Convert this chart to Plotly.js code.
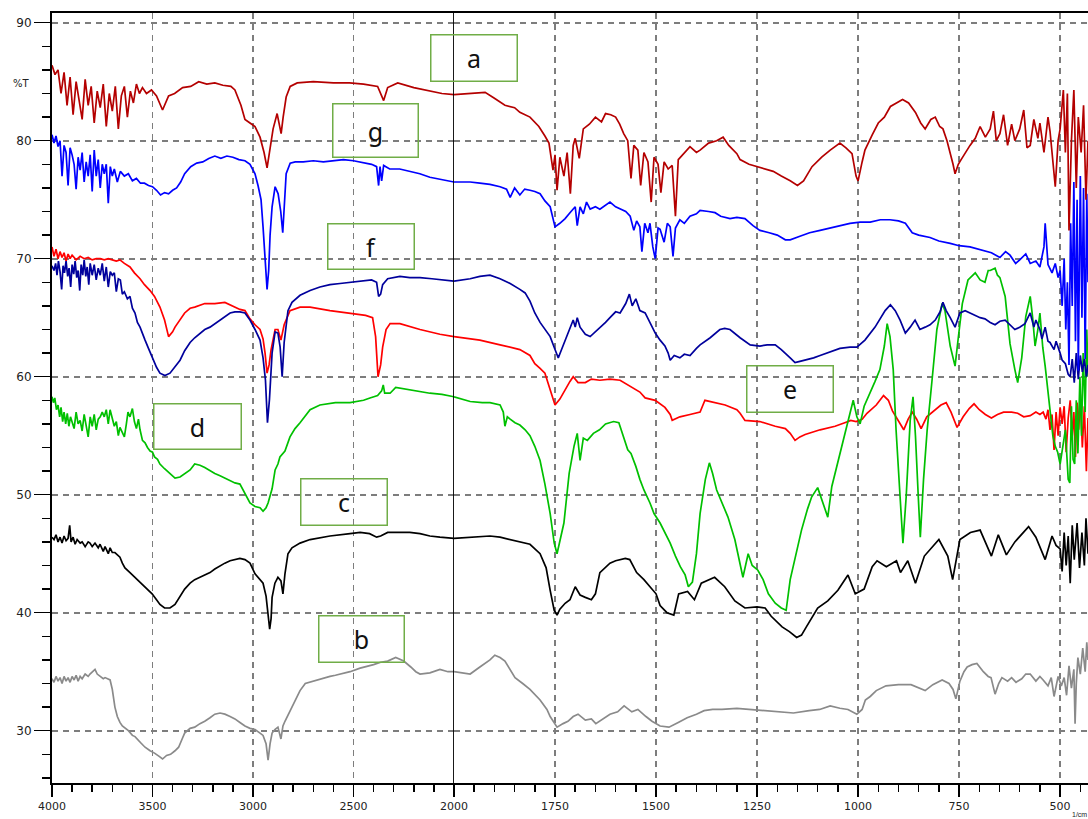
<!DOCTYPE html>
<html>
<head>
<meta charset="utf-8">
<script src="https://cdn.plot.ly/plotly-3.0.1.min.js"></script>
<style>html,body{margin:0;padding:0;background:#fff;}#chart{width:1088px;height:819px;}</style>
</head>
<body>
<div id="chart"></div>
<script>
// ---- Data (wavenumber in 1/cm, transmittance in %T) ----
const aWN=[4000,3985,3970,3955,3940,3925,3910,3895,3880,3865,3850,3835,3820,3805,3790,3775,3760,3745,3730,3715,3700,3685,3670,3655,3640,3625,3610,3595,3580,3565,3550,3530,3505,3480,3450,3420,3390,3350,3310,3270,3230,3190,3150,3110,3090,3060,3040,3015,2990,2965,2945,2930,2915,2900,2880,2870,2860,2850,2835,2815,2780,2700,2600,2520,2450,2380,2350,2330,2280,2200,2120,2060,2000,1960,1923,1900,1874,1850,1837,1812,1790,1775,1765,1755,1750,1745,1738,1728,1720,1712,1705,1700,1690,1680,1665,1650,1635,1625,1612,1600,1590,1580,1570,1562,1555,1545,1538,1530,1520,1512,1505,1495,1488,1480,1470,1460,1452,1445,1430,1416,1400,1391,1370,1350,1334,1320,1300,1292,1270,1250,1230,1210,1190,1168,1150,1135,1114,1090,1069,1045,1030,1015,1005,1000,990,983,965,950,935,920,905,890,875,858,845,834,820,809,798,790,780,772,765,760,752,745,735,723,710,698,685,673,665,658,649,640,630,620,612,600,590,582,574,565,555,550,540,530,525,518,512,505,500,492,487,482,478,472,466,460,455,448,442,436,431];
const aT=[86.4,85.6,86.0,84.0,85.8,83.0,85.4,82.2,85.0,83.5,81.8,85.2,83.0,84.6,81.5,84.2,82.8,84.8,81.2,84.0,82.5,84.6,81.0,83.8,84.6,82.0,84.2,83.2,84.8,84.0,84.5,84.0,84.3,83.8,82.6,83.8,84.0,84.5,84.6,85.0,84.8,84.9,84.7,84.6,84.3,83.0,81.8,81.5,81.2,80.3,79.0,77.7,79.5,81.0,82.3,81.5,80.6,82.0,83.7,84.6,84.9,85.0,84.9,84.9,84.8,84.6,83.4,84.5,84.9,84.5,84.2,84.0,83.9,84.0,84.1,83.6,83.0,82.8,82.4,82.0,81.2,80.4,79.8,77.5,78.8,75.8,78.6,77.0,79.0,75.5,79.6,80.2,78.5,81.0,81.4,82.0,81.6,82.3,82.2,82.0,81.4,80.6,80.0,76.8,79.6,79.2,76.2,79.0,78.2,74.8,78.6,78.0,75.6,78.2,77.6,77.9,73.6,78.4,79.0,79.5,79.0,79.2,79.8,80.0,80.3,79.6,78.9,78.4,78.0,77.8,77.6,77.4,77.0,76.6,76.2,76.6,77.8,78.6,79.2,79.8,79.4,78.9,77.0,76.6,78.2,79.2,80.5,81.5,82.0,82.9,83.2,83.5,83.2,82.4,81.5,81.0,81.8,82.0,81.2,81.0,80.0,79.0,78.0,77.2,78.0,78.4,79.0,79.6,80.2,81.2,80.3,81.0,82.5,80.0,80.6,82.2,79.6,81.4,80.0,81.0,82.6,79.4,79.6,81.8,80.2,81.5,79.0,82.0,80.8,78.0,76.1,80.0,81.0,84.3,79.0,84.0,72.4,80.0,84.3,76.0,82.0,79.0,83.0,75.0,80.0];

const gWN=[4000,3990,3980,3970,3960,3950,3940,3930,3920,3910,3900,3890,3880,3870,3860,3850,3840,3830,3820,3810,3800,3790,3780,3770,3760,3750,3740,3730,3720,3710,3700,3690,3675,3660,3640,3620,3600,3580,3560,3540,3520,3500,3480,3460,3440,3420,3400,3380,3360,3340,3310,3280,3250,3220,3190,3160,3130,3100,3070,3040,3015,2990,2975,2960,2950,2940,2930,2922,2915,2905,2890,2875,2862,2852,2845,2835,2815,2790,2750,2700,2650,2600,2550,2500,2450,2410,2385,2375,2368,2360,2350,2320,2270,2220,2170,2120,2060,2000,1960,1936,1911,1886,1870,1861,1850,1837,1825,1812,1800,1787,1775,1762,1755,1750,1738,1725,1713,1700,1695,1688,1680,1672,1663,1650,1639,1625,1614,1600,1589,1575,1564,1555,1548,1540,1535,1528,1520,1515,1508,1502,1495,1490,1480,1472,1465,1458,1452,1441,1430,1416,1400,1391,1370,1354,1340,1317,1300,1280,1260,1243,1220,1200,1180,1168,1144,1120,1094,1070,1057,1040,1020,995,970,945,921,900,883,866,850,822,800,772,750,723,700,686,670,649,635,624,610,600,585,574,560,550,540,537,530,520,512,505,500,495,490,486,482,478,474,470,466,462,458,455,450,446,442,438,434,431];
const gT=[80.5,79.8,80.4,79.5,80.0,77.0,79.6,79.0,76.2,79.4,78.8,78.0,75.9,78.6,77.5,79.0,76.5,78.2,77.0,78.8,75.7,79.2,77.0,78.4,76.0,78.0,77.2,78.0,74.7,77.8,77.0,77.6,76.5,77.4,77.0,77.2,76.6,76.8,76.4,76.4,76.2,76.1,75.8,75.4,75.6,75.5,75.8,76.0,76.5,77.2,77.8,78.1,78.2,78.5,78.7,78.5,78.7,78.6,78.4,78.3,78.0,77.2,76.2,75.0,72.7,69.5,67.4,69.0,72.0,74.4,76.1,75.5,74.0,72.2,74.0,77.2,78.1,78.2,78.2,78.3,78.2,78.3,78.4,78.3,78.1,78.0,77.8,76.2,77.8,76.6,77.9,77.6,77.6,77.4,77.2,76.9,76.7,76.5,76.5,76.4,76.3,76.1,75.9,75.2,76.0,75.4,75.9,75.8,75.7,75.5,74.9,74.4,73.4,72.7,73.0,73.4,73.9,74.4,72.8,74.4,73.8,74.8,74.2,74.4,74.2,74.5,74.8,74.4,74.2,74.0,73.6,72.4,73.2,72.7,70.6,73.0,72.2,73.0,71.0,70.0,72.6,72.5,71.4,73.0,72.7,70.2,72.6,73.3,73.0,73.6,73.8,74.1,74.0,73.9,73.6,73.4,73.5,73.4,72.8,72.4,72.2,72.0,71.6,71.6,71.9,72.2,72.4,72.6,72.7,72.8,73.0,73.1,73.1,73.3,73.3,73.2,73.0,72.2,72.0,71.8,71.5,71.3,71.1,71.0,70.8,70.7,70.5,70.1,70.6,70.3,69.6,69.9,70.4,69.6,69.8,69.3,71.0,73.0,69.5,68.8,69.6,68.4,69.0,66.0,70.0,64.0,68.0,61.0,73.0,66.0,76.5,63.0,75.0,60.5,77.0,65.0,76.0,61.5,75.5,68.0];

const fWN=[4000,3990,3982,3975,3968,3960,3952,3945,3938,3930,3922,3915,3907,3900,3892,3885,3877,3870,3862,3855,3847,3840,3832,3825,3817,3810,3800,3790,3780,3770,3760,3750,3740,3730,3720,3710,3700,3690,3680,3670,3660,3650,3640,3625,3612,3600,3587,3575,3562,3550,3537,3520,3502,3480,3463,3438,3413,3400,3388,3363,3340,3313,3290,3264,3240,3214,3190,3164,3140,3114,3090,3065,3040,3015,2990,2965,2950,2938,2928,2918,2905,2890,2876,2865,2855,2845,2826,2806,2766,2716,2667,2617,2567,2517,2460,2410,2385,2375,2365,2355,2330,2269,2220,2169,2110,2060,2000,1960,1936,1911,1886,1861,1837,1824,1812,1800,1787,1775,1762,1750,1742,1735,1725,1713,1705,1700,1695,1688,1675,1663,1650,1639,1625,1614,1600,1589,1575,1566,1559,1550,1540,1527,1515,1502,1490,1478,1470,1465,1455,1441,1430,1416,1400,1391,1366,1342,1330,1317,1292,1267,1243,1225,1205,1190,1168,1156,1144,1131,1110,1094,1070,1045,1020,1003,983,958,933,920,908,896,883,871,859,847,834,822,809,797,790,782,772,760,748,735,723,710,698,686,673,661,649,636,624,612,600,587,574,565,560,550,545,537,530,525,515,510,500,495,487,480,475,470,465,460,455,450,445,440,435,431];
const fT=[69.4,69.0,69.6,68.6,69.8,68.9,67.4,69.4,68.8,69.8,68.5,69.2,67.6,69.5,68.7,69.8,68.4,69.0,67.3,69.5,68.6,69.9,68.5,69.3,67.8,69.6,68.6,69.5,68.2,69.2,68.6,69.6,68.1,69.3,67.6,68.9,68.6,68.8,67.2,68.3,68.2,67.0,67.2,66.6,66.8,65.8,65.4,64.6,64.2,63.6,63.1,62.4,61.6,60.8,60.3,60.1,60.3,60.6,60.9,61.4,62.2,62.9,63.3,63.7,64.0,64.2,64.5,64.8,65.1,65.4,65.5,65.5,65.4,64.8,64.0,63.1,61.6,59.7,56.1,58.1,62.0,63.8,63.7,62.5,60.0,62.9,65.6,66.3,66.9,67.3,67.6,67.8,67.9,68.0,68.1,68.2,68.0,66.8,67.0,67.8,68.3,68.5,68.4,68.4,68.3,68.2,68.1,68.3,68.5,68.6,68.3,67.9,67.4,67.1,66.4,65.4,64.6,64.0,63.4,62.3,61.6,62.2,63.1,64.2,64.8,64.2,65.0,64.2,63.6,63.4,63.8,64.2,64.6,65.0,65.5,65.4,66.2,67.0,66.0,66.6,65.6,65.4,64.6,63.7,63.1,62.6,62.0,61.4,61.8,61.6,61.9,61.8,62.4,62.7,63.3,64.0,64.1,64.0,63.3,62.7,62.6,62.7,62.7,62.3,61.6,61.2,61.3,61.4,61.6,61.8,62.1,62.4,62.5,62.5,63.1,64.2,65.6,66.1,65.6,64.8,63.7,64.2,64.8,64.0,64.2,64.4,64.8,65.5,66.3,65.6,65.0,64.2,65.4,65.6,65.4,65.2,65.0,64.9,64.6,64.4,64.7,64.8,64.4,64.0,64.2,64.5,65.4,64.2,64.8,64.0,63.2,64.2,63.0,62.9,62.3,63.0,62.0,61.4,61.1,60.2,60.0,61.5,59.5,62.0,59.8,61.8,60.4,61.5,60.0,61.0];

const eWN=[4000,3990,3980,3970,3960,3950,3940,3930,3920,3910,3900,3880,3860,3840,3820,3800,3780,3760,3740,3720,3700,3680,3662,3640,3612,3590,3562,3540,3512,3490,3463,3440,3420,3400,3388,3365,3340,3313,3290,3240,3190,3140,3114,3090,3065,3040,3015,2990,2965,2950,2940,2930,2920,2910,2890,2876,2861,2845,2816,2766,2716,2617,2517,2440,2405,2390,2378,2365,2355,2338,2318,2269,2169,2070,2000,1936,1886,1837,1812,1800,1787,1775,1762,1750,1738,1725,1713,1705,1693,1675,1660,1639,1614,1589,1564,1540,1527,1502,1478,1465,1460,1441,1416,1391,1379,1366,1354,1329,1300,1292,1280,1243,1205,1180,1168,1156,1144,1131,1094,1057,1033,1018,1005,990,978,955,937,925,915,900,887,876,866,855,844,830,810,795,782,770,755,740,725,713,700,685,670,655,640,620,605,590,574,560,550,542,535,530,525,520,515,510,505,500,495,490,485,480,475,470,466,462,458,454,450,445,440,435,431];
const eT=[71.0,70.2,70.8,70.0,70.6,70.1,70.5,69.8,70.4,70.0,70.3,69.9,70.2,70.0,70.1,69.9,70.0,70.0,69.9,70.0,69.9,69.8,69.9,69.6,69.3,68.8,68.3,67.8,67.3,66.8,65.9,64.8,63.4,63.8,64.2,64.8,65.4,65.8,65.9,66.2,66.2,66.3,66.1,65.9,65.7,65.6,64.9,64.4,64.0,63.2,62.0,60.3,61.0,62.3,64.0,64.0,63.1,64.4,65.6,65.9,65.9,65.6,65.4,65.2,65.0,63.4,60.0,61.0,62.5,64.0,64.5,64.5,64.0,63.6,63.4,63.1,62.7,62.3,61.8,61.1,60.7,60.3,58.9,57.6,58.1,58.9,59.6,60.0,59.5,59.5,59.8,59.7,59.8,59.7,59.2,58.7,58.2,58.0,57.4,56.8,56.3,56.6,56.8,57.0,58.0,57.9,57.8,57.6,57.2,56.9,56.3,56.2,55.8,55.6,55.2,54.6,54.9,55.1,55.5,55.8,56.1,56.3,56.2,56.4,56.9,57.6,58.4,58.0,57.1,56.2,55.5,56.4,57.0,56.4,55.6,56.6,57.2,57.6,57.8,57.0,55.7,56.6,57.3,57.7,57.2,56.8,56.5,56.8,57.0,57.0,56.9,56.6,56.7,57.0,56.8,57.0,56.4,57.2,55.5,56.8,53.8,57.0,55.0,57.4,56.0,57.5,53.6,56.5,58.0,55.0,57.0,53.2,57.8,55.5,58.5,54.0,57.5,52.0,56.5];

const dWN=[4000,3993,3986,3978,3970,3962,3955,3947,3940,3932,3924,3916,3908,3900,3890,3880,3870,3860,3850,3840,3830,3820,3810,3800,3790,3780,3770,3760,3750,3740,3730,3720,3711,3700,3690,3680,3670,3662,3650,3640,3630,3622,3612,3600,3590,3580,3570,3562,3550,3537,3525,3512,3500,3490,3475,3463,3440,3413,3400,3388,3363,3340,3313,3290,3264,3240,3214,3190,3164,3140,3114,3090,3065,3040,3015,2990,2965,2950,2935,2925,2905,2890,2876,2866,2841,2816,2791,2766,2716,2667,2590,2517,2450,2418,2380,2360,2352,2345,2318,2290,2220,2169,2120,2060,2000,1960,1930,1911,1886,1878,1874,1868,1861,1849,1837,1824,1812,1800,1787,1775,1762,1752,1745,1738,1728,1715,1703,1695,1688,1680,1670,1655,1640,1625,1605,1592,1580,1570,1562,1550,1540,1530,1515,1505,1490,1478,1465,1452,1440,1428,1420,1410,1400,1391,1378,1368,1360,1350,1335,1322,1305,1295,1285,1272,1262,1248,1235,1222,1205,1190,1178,1168,1150,1140,1125,1115,1100,1085,1075,1065,1050,1040,1030,1022,1012,1003,995,985,970,958,946,935,928,921,913,906,896,889,881,871,864,858,851,846,838,829,817,805,792,785,772,760,752,742,728,710,698,686,678,673,661,655,649,642,636,630,624,612,605,595,585,574,568,562,555,550,543,537,530,525,518,512,506,500,494,487,480,476,472,468,464,460,456,451,447,443,438,434,431];
const dT=[58.3,57.8,58.2,57.2,57.6,56.6,57.4,56.2,57.0,56.0,56.9,55.8,56.6,56.2,55.6,57.0,56.0,56.3,55.4,56.8,56.0,54.9,56.6,55.8,56.8,55.5,56.4,56.6,57.0,56.6,57.2,56.0,57.2,56.4,55.8,56.2,55.0,55.7,55.2,54.9,56.0,57.0,56.6,57.3,56.2,55.6,56.4,55.5,54.6,54.4,54.0,53.7,53.6,53.2,53.0,52.6,52.2,51.8,51.6,51.4,51.5,51.8,52.1,52.6,52.5,52.3,52.0,51.8,51.6,51.4,51.2,51.0,50.9,50.1,49.3,49.0,48.9,48.6,48.9,49.3,50.5,52.1,52.6,53.2,53.7,54.9,55.6,56.1,57.2,57.6,57.8,57.8,58.0,58.2,58.4,58.8,59.3,58.6,58.6,59.1,58.9,58.8,58.6,58.5,58.3,57.9,57.8,57.8,57.6,57.0,55.8,56.6,56.4,56.1,55.9,55.5,55.0,54.1,52.9,50.9,48.4,45.9,45.0,46.2,47.6,51.8,54.1,55.2,52.9,54.8,54.6,55.2,55.5,56.0,56.2,56.1,54.9,53.8,53.5,52.4,51.3,50.4,49.3,48.4,47.6,46.8,45.9,44.8,43.9,43.2,42.2,42.6,45.0,48.4,51.3,52.7,51.8,50.4,49.2,48.1,46.2,44.6,43.0,45.0,44.0,43.6,42.8,41.6,40.8,40.4,40.2,42.8,45.6,47.0,48.8,49.8,50.6,49.0,48.1,50.7,52.8,54.1,55.5,56.6,58.0,56.6,56.0,57.5,58.6,59.6,60.6,62.6,64.5,63.4,60.6,55.5,49.8,45.9,49.8,56.3,58.3,55.0,49.8,46.4,51.3,55.5,59.7,64.0,66.2,65.6,62.6,60.9,63.3,66.2,68.2,68.8,68.2,68.0,69.0,69.0,69.2,68.6,68.4,67.6,66.8,64.8,62.8,60.6,59.5,61.6,65.1,66.8,65.0,62.6,64.0,65.4,62.5,60.9,58.5,56.9,55.0,54.1,53.6,52.6,54.0,55.5,51.3,51.0,57.5,53.0,52.6,58.0,53.5,60.0,55.0,62.0,57.0,64.0,60.0];

const cWN=[4000,3990,3980,3970,3960,3950,3940,3930,3920,3912,3905,3895,3885,3875,3860,3850,3835,3820,3811,3800,3786,3770,3761,3745,3736,3720,3711,3700,3687,3662,3650,3637,3612,3587,3562,3537,3520,3502,3480,3463,3440,3413,3388,3363,3340,3313,3290,3264,3240,3214,3190,3164,3140,3114,3090,3065,3040,3015,2990,2965,2950,2935,2925,2917,2910,2905,2891,2876,2861,2851,2841,2826,2806,2766,2716,2617,2517,2467,2420,2385,2365,2330,2290,2220,2169,2120,2070,2000,1960,1911,1886,1861,1837,1812,1787,1772,1762,1752,1745,1738,1725,1713,1700,1688,1675,1660,1650,1639,1614,1600,1576,1565,1548,1530,1515,1500,1490,1473,1456,1444,1422,1405,1388,1355,1330,1305,1280,1250,1230,1215,1188,1170,1152,1140,1128,1100,1075,1050,1025,1007,985,965,953,930,905,895,877,858,836,800,778,766,748,722,698,670,653,633,612,578,560,537,520,510,500,495,490,485,480,475,470,465,458,452,446,440,436,431];
const cT=[46.4,46.2,46.6,46.0,46.4,45.9,46.5,46.1,46.3,47.4,46.0,46.4,45.8,46.2,45.9,46.0,45.6,46.0,45.9,45.6,45.9,45.5,45.8,45.2,45.6,45.0,45.5,45.1,45.1,44.7,44.2,43.8,43.4,43.0,42.6,42.2,41.9,41.6,41.1,40.7,40.4,40.4,40.7,41.4,42.0,42.5,42.8,43.0,43.2,43.4,43.7,44.0,44.2,44.4,44.5,44.6,44.5,44.2,43.3,42.8,42.5,41.4,39.6,38.6,39.5,41.3,42.5,43.0,42.7,41.6,43.3,45.0,45.5,45.9,46.2,46.5,46.7,46.8,46.7,46.4,46.5,46.8,46.8,46.8,46.7,46.5,46.4,46.3,46.4,46.5,46.4,46.2,46.0,45.8,45.0,43.8,41.9,40.2,39.8,40.3,40.8,41.1,42.2,41.5,41.3,41.1,41.6,43.4,44.2,44.4,44.6,44.5,43.4,42.8,42.2,41.6,40.6,40.0,39.8,41.6,41.8,41.1,42.5,43.0,42.2,41.0,40.4,40.5,40.4,39.7,38.8,38.4,37.9,38.1,38.8,40.4,41.0,41.9,43.2,41.6,42.0,43.9,44.4,43.9,44.4,43.4,44.4,42.5,44.8,46.2,44.8,42.8,46.2,46.8,47.0,44.8,46.6,44.9,46.0,47.3,46.4,44.5,46.5,45.7,45.4,43.5,46.8,44.0,46.5,42.5,47.4,44.5,47.6,43.8,46.8,44.0,48.0,45.0];

const bWN=[4000,3990,3980,3970,3960,3950,3940,3930,3920,3910,3900,3890,3880,3870,3860,3850,3835,3820,3811,3800,3786,3775,3761,3745,3736,3720,3711,3700,3687,3675,3662,3650,3637,3620,3600,3587,3560,3537,3512,3490,3465,3450,3430,3410,3388,3370,3350,3340,3313,3290,3264,3240,3214,3190,3164,3140,3114,3090,3065,3040,3015,2990,2965,2950,2935,2925,2915,2905,2891,2876,2861,2851,2841,2816,2791,2766,2740,2700,2667,2617,2590,2517,2467,2440,2400,2365,2330,2290,2250,2215,2190,2169,2120,2070,2030,2000,1960,1936,1911,1899,1886,1874,1861,1849,1830,1812,1787,1770,1762,1745,1730,1718,1705,1693,1675,1660,1649,1630,1614,1595,1579,1560,1545,1525,1510,1490,1468,1445,1423,1400,1381,1360,1337,1300,1267,1230,1200,1181,1160,1121,1095,1069,1045,1025,1012,1003,990,982,970,955,931,900,869,850,834,815,792,775,765,758,748,738,730,718,706,690,678,671,661,652,644,630,620,609,595,585,574,560,550,542,530,522,515,505,497,490,484,478,472,466,463,460,456,450,444,438,434,431];
const bT=[34.4,34.1,34.6,34.2,34.5,34.0,34.6,34.2,34.5,34.1,34.6,34.3,34.7,34.2,34.6,34.4,34.8,34.6,34.8,35.0,35.2,34.8,34.6,34.4,34.5,34.4,34.3,33.5,32.0,31.2,30.7,30.4,30.2,30.0,29.6,29.5,29.0,28.6,28.3,28.1,27.8,27.6,27.9,28.0,28.3,28.6,29.4,29.8,30.2,30.3,30.6,30.8,31.1,31.4,31.5,31.4,31.2,31.0,30.7,30.4,30.2,30.1,29.8,29.6,28.9,27.5,28.9,29.8,30.1,30.3,29.3,30.4,30.8,31.7,32.6,33.4,34.0,34.2,34.4,34.6,34.7,35.0,35.3,35.4,35.6,35.8,35.9,36.2,35.9,35.4,35.0,34.8,34.9,35.2,35.0,35.0,34.8,35.4,36.0,36.4,36.2,35.9,35.2,34.5,34.0,33.5,32.6,31.8,31.2,30.3,30.6,30.8,31.2,31.4,30.9,31.0,30.6,31.0,31.4,31.6,32.1,31.6,31.8,31.2,30.8,30.4,30.3,30.7,31.1,31.4,31.7,31.8,31.8,31.9,31.8,31.7,31.6,31.5,31.5,31.7,31.8,32.1,31.9,31.8,31.6,31.4,31.8,32.6,32.9,33.4,33.8,33.9,33.9,33.6,33.4,33.9,34.3,34.0,33.5,32.7,34.2,35.0,35.4,35.6,35.7,35.0,34.6,34.5,33.1,34.0,34.5,34.2,34.5,34.1,34.4,34.8,34.8,34.2,34.6,34.3,33.8,34.5,32.9,34.6,33.8,34.5,33.0,35.5,33.6,35.2,30.6,34.0,36.2,34.8,37.0,35.0,37.5,36.0];

const labels=['a','b','c','d','e','f','g'];
const xTickMajor1=[4000,3500,3000,2500,2000];
const xTickMajor2=[1750,1500,1250,1000,750,500];
const yTicks=[30,40,50,60,70,80,90];

// ---- Styling / layout ----
const W=1088,H=819, ML=52, MT=13, MB=36;
const PW=W-ML, PH=H-MT-MB;
const BREAK=2000, XMAX=4000, XMIN=431;
const SPLIT=402/1036; // pixel width of the 4000-2000 half
const series=[
  {name:'b',wn:bWN,t:bT,color:'#8a8a8a'},
  {name:'c',wn:cWN,t:cT,color:'#000000'},
  {name:'e',wn:eWN,t:eT,color:'#ff0000'},
  {name:'d',wn:dWN,t:dT,color:'#00c000'},
  {name:'f',wn:fWN,t:fT,color:'#00009c'},
  {name:'g',wn:gWN,t:gT,color:'#0000ff'},
  {name:'a',wn:aWN,t:aT,color:'#b40000'}
];
const traces=[];
series.forEach(s=>{
  const x1=[],y1=[],x2=[],y2=[];
  s.wn.forEach((w,i)=>{
    if(w>=BREAK){x1.push(w);y1.push(s.t[i]);}
    if(w<=BREAK){x2.push(w);y2.push(s.t[i]);}
  });
  traces.push({x:x1,y:y1,xaxis:'x',yaxis:'y',type:'scatter',mode:'lines',line:{color:s.color,width:1.7},hoverinfo:'skip'});
  traces.push({x:x2,y:y2,xaxis:'x2',yaxis:'y',type:'scatter',mode:'lines',line:{color:s.color,width:1.7},hoverinfo:'skip'});
});

const gridStyle={showgrid:true,gridcolor:'#7d7d7d',gridwidth:1.6,griddash:'6px,5px',zeroline:false};
const tickFont={family:'DejaVu Sans, Liberation Sans, sans-serif',size:11,color:'#222'};
const yTop=90+9.7/11.8, yBot=30-(783-730.7)/11.8;

function px(xp){return (xp-ML)/PW;}
function py(yp){return (H-MB-yp)/PH;}
// label boxes: [label, left, top, right, bottom] in page pixels
const boxes=[['a',430,34,517,81],['g',332,103,418,157],['f',327,223,414,269],['e',746,365,833,412],['d',153,403,241,449],['c',300,479,387,526],['b',318,615,404,662]];
const annotations=boxes.map(b=>({
  text:b[0], xref:'paper',yref:'paper', x:px((b[1]+b[3])/2), y:py((b[2]+b[4])/2),
  xanchor:'center',yanchor:'middle', showarrow:false,
  width:b[3]-b[1]-2, height:b[4]-b[2]-2, borderpad:0,
  bordercolor:'#70ad47', borderwidth:1.5, bgcolor:'rgba(255,255,255,0)',
  font:{family:'Noto Sans, Open Sans, sans-serif',size:25,color:'#111'}
}));
annotations.push({text:'%T',xref:'paper',yref:'paper',x:px(21),y:py(83.5),xanchor:'center',yanchor:'middle',showarrow:false,font:{family:'DejaVu Sans, sans-serif',size:10,color:'#222'}});
annotations.push({text:'1/cm',xref:'paper',yref:'paper',x:1,y:py(819),xanchor:'right',yanchor:'bottom',showarrow:false,borderpad:0,font:{family:'Liberation Sans, Arial, sans-serif',size:7,color:'#222'}});

const layout={
  width:W,height:H,
  margin:{l:ML,r:0,t:MT,b:MB,pad:0},
  paper_bgcolor:'#ffffff',plot_bgcolor:'#ffffff',
  showlegend:false,
  xaxis:Object.assign({
    domain:[0,SPLIT],range:[XMAX,BREAK],tickmode:'array',tickvals:xTickMajor1,ticktext:xTickMajor1.map(String),
    ticks:'outside',ticklen:12,tickwidth:1.5,tickcolor:'#000',tickfont:tickFont,
    showline:true,linecolor:'#000',linewidth:2,mirror:true,
    minor:{tickmode:'linear',tick0:0,dtick:100,ticks:'outside',ticklen:7,tickwidth:1.5,tickcolor:'#000',showgrid:false}
  },gridStyle),
  xaxis2:Object.assign({
    domain:[SPLIT,1],anchor:'y',range:[BREAK,XMIN],tickmode:'array',tickvals:xTickMajor2,ticktext:xTickMajor2.map(String),
    ticks:'outside',ticklen:12,tickwidth:1.5,tickcolor:'#000',tickfont:tickFont,
    showline:true,linecolor:'#000',linewidth:2,mirror:true,
    minor:{tickmode:'linear',tick0:0,dtick:50,ticks:'outside',ticklen:7,tickwidth:1.5,tickcolor:'#000',showgrid:false}
  },gridStyle),
  yaxis:Object.assign({
    range:[yBot,yTop],tickmode:'array',tickvals:yTicks,ticktext:yTicks.map(String),
    ticks:'outside',ticklen:16,tickwidth:1.5,tickcolor:'#000',tickfont:Object.assign({},tickFont,{size:12}),
    showline:true,linecolor:'#000',linewidth:2,
    minor:{tickmode:'linear',tick0:0,dtick:2,ticks:'outside',ticklen:8,tickwidth:1.5,tickcolor:'#000',showgrid:false}
  },gridStyle),
  shapes:[{type:'line',xref:'x',yref:'paper',x0:BREAK,x1:BREAK,y0:0,y1:1,line:{color:'#000',width:1.8},layer:'above'}],
  annotations:annotations
};
Plotly.newPlot('chart',traces,layout,{staticPlot:true,displayModeBar:false});
</script>
</body>
</html>
